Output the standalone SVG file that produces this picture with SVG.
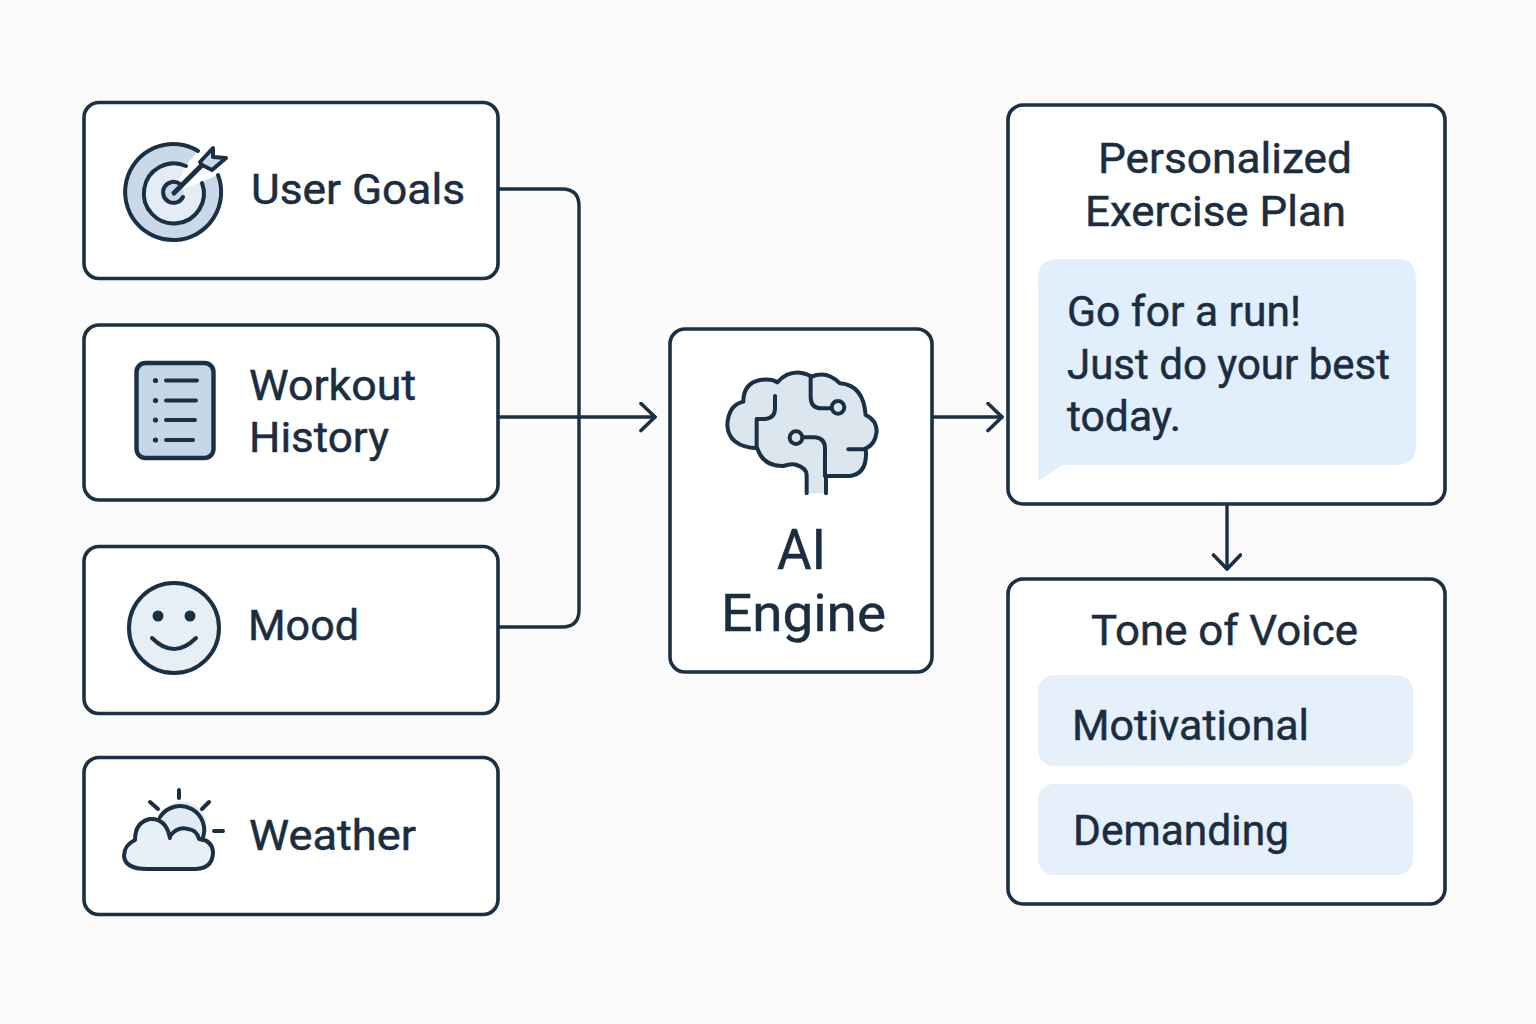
<svg xmlns="http://www.w3.org/2000/svg" width="1536" height="1024" viewBox="0 0 1536 1024">
<style>
.box{fill:#fff;stroke:#1a3044;stroke-width:3.6}
.t{font-family:Roboto,"Liberation Sans",sans-serif;font-weight:400;stroke:#1b2d40;stroke-width:.5;fill:#1b2d40;font-size:43px}
.i{stroke:#1a3044;stroke-width:4;stroke-linecap:round;stroke-linejoin:round;fill:none}
.c{fill:none;stroke:#1a3044;stroke-width:3.4;stroke-linejoin:round;stroke-linecap:round}
</style>
<defs><marker id="a" markerUnits="userSpaceOnUse" markerWidth="24" markerHeight="34" refX="18" refY="15" orient="auto"><path d="M4 1.500L18 15L4 28.500" fill="none" stroke="#1a3044" stroke-width="3.600" stroke-linecap="round" stroke-linejoin="round"/></marker></defs>
<rect width="1536" height="1024" fill="#fbfbfb"/>
<g id="connectors">
<path class="c" d="M499 189H562Q579 189 579 206V610Q579 627 562 627H499"/>
<path class="c" d="M499 417H655" marker-end="url(#a)"/>
<path class="c" d="M933 417H1002" marker-end="url(#a)"/>
<path class="c" d="M1227 505V569" marker-end="url(#a)"/>
</g>
<g id="goals"><rect class="box" x="84" y="102.500" width="414" height="176" rx="15"/>
<path d="M198 151A48 48 0 1 0 218 175L201 182A30 30 0 1 1 186 165Z" fill="#c9d9e7"/>
<path d="M186 165A30 30 0 1 0 201 182L174 192Z" fill="#e4edf5"/>
<circle cx="173" cy="192" r="10.500" fill="#c9d9e7"/>
<path class="i" d="M198 151A48 48 0 1 0 218 175M186 166A30 30 0 1 0 202 183M180 184A10.500 10.500 0 1 0 183 197"/>
<path class="i" d="M174 193L203 164" style="stroke-width:5"/>
<path class="i" d="M200 162L213 148V157L226 158L212 170L202 165Z" style="fill:#c9d9e7"/>
<text class="t" x="251" y="204" textLength="214" lengthAdjust="spacingAndGlyphs">User Goals</text></g>
<g id="history"><rect class="box" x="84" y="325" width="414" height="175" rx="15"/>
<rect x="136.500" y="363" width="77" height="95" rx="9" fill="#c4d7e7" stroke="#1a3044" stroke-width="4.400"/>
<path class="i" d="M166 380.500H197M166 400.500H196M166 420H195M166 440H193"/>
<g fill="#1a3044"><circle cx="155.500" cy="380.500" r="2.600"/><circle cx="155.500" cy="400.500" r="2.600"/><circle cx="155.500" cy="420" r="2.600"/><circle cx="155.500" cy="440" r="2.600"/></g>
<text class="t" x="249" y="400" textLength="167" lengthAdjust="spacingAndGlyphs">Workout</text><text class="t" x="249" y="452" textLength="140" lengthAdjust="spacingAndGlyphs">History</text></g>
<g id="mood"><rect class="box" x="84" y="546.500" width="414" height="167" rx="15"/>
<circle cx="174" cy="628" r="45" fill="#e6eef6" stroke="#1a3044" stroke-width="4"/>
<circle cx="158" cy="616" r="5.500" fill="#1a3044"/><circle cx="190" cy="616" r="5.500" fill="#1a3044"/>
<path class="i" d="M152 638Q174 660 196 638"/>
<text class="t" x="248" y="640" textLength="111" lengthAdjust="spacingAndGlyphs">Mood</text></g>
<g id="weather"><rect class="box" x="84" y="757.500" width="414" height="157" rx="15"/>
<path d="M160 817A24 24 0 0 1 205 834L200 840L160 830Z" fill="#e2ecf5"/>
<path d="M147 869H196Q213 868 213 852Q212 840 199 839Q196 829 186 832Q176 832 170 838Q163 816 146 820Q135 824 135 840Q124 845 124 856Q125 869 147 869Z" fill="#e8f0f7"/>
<path class="i" d="M160 817A24 24 0 0 1 202 840M147 869H196Q213 868 213 852Q212 840 199 839Q197 830 188 829Q178 826 170 836M170 838Q166 818 150 819Q135 822 135 840Q124 845 124 856Q125 869 147 869M179 790V798M150 802L158 809M209 802L202 809M214 831H223"/>
<text class="t" x="249" y="850" textLength="167" lengthAdjust="spacingAndGlyphs">Weather</text></g>
<g id="engine"><rect class="box" x="670" y="329" width="262" height="343" rx="15"/>
<g transform="translate(700 350) scale(.3333)">
<path d="M320 430V375Q320 355 290 345Q275 340 250 348Q190 350 172 295Q85 290 82 225Q85 165 130 155Q130 100 180 90Q215 85 232 97Q260 65 300 68Q320 70 335 80Q380 60 420 100Q490 105 497 195Q530 210 530 245Q525 285 497 295Q505 370 450 378H378V430Z" fill="#dbe6ef"/>
<g fill="none" stroke="#1a3044" stroke-width="12" stroke-linecap="round" stroke-linejoin="round">
<path d="M320 430V375Q320 355 290 345Q275 340 250 348Q190 350 172 295Q85 290 82 225Q85 165 130 155Q130 100 180 90Q215 85 232 97Q260 65 300 68Q320 70 335 80Q380 60 420 100Q490 105 497 195Q530 210 530 245Q525 285 497 295Q505 370 450 378H378V430"/>
<path d="M225 138V175Q225 205 195 207H170V295M332 82V140Q332 175 365 175H395M310 262H345Q375 265 375 295V378M445 298H497"/>
<circle cx="414" cy="172" r="19"/><circle cx="288" cy="263" r="19"/></g></g>
<text class="t" x="777" y="569" textLength="49" lengthAdjust="spacingAndGlyphs" style="font-size:55px">AI</text><text class="t" x="721" y="631" textLength="165" lengthAdjust="spacingAndGlyphs" style="font-size:52px">Engine</text></g>
<g id="plan"><rect class="box" x="1008" y="105" width="437" height="399" rx="15"/>
<text class="t" x="1098" y="173" textLength="254" lengthAdjust="spacingAndGlyphs">Personalized</text><text class="t" x="1085" y="226" textLength="261" lengthAdjust="spacingAndGlyphs">Exercise Plan</text>
<path d="M1038 481V279Q1038 259 1058 259H1396Q1416 259 1416 279V445Q1416 465 1396 465H1062Z" fill="#e1eefc"/>
<text class="t" x="1067" y="326" textLength="234" lengthAdjust="spacingAndGlyphs">Go for a run!</text><text class="t" x="1067" y="379" textLength="323" lengthAdjust="spacingAndGlyphs">Just do your best</text><text class="t" x="1067" y="431" textLength="114" lengthAdjust="spacingAndGlyphs">today.</text></g>
<g id="tone"><rect class="box" x="1008" y="579" width="437" height="325" rx="15"/>
<text class="t" x="1091" y="645" textLength="267" lengthAdjust="spacingAndGlyphs">Tone of Voice</text>
<rect x="1038" y="675" width="375" height="91" rx="16" fill="#e6f0fb"/><text class="t" x="1072" y="740" textLength="237" lengthAdjust="spacingAndGlyphs">Motivational</text>
<rect x="1038" y="784" width="375" height="91" rx="16" fill="#e6f0fb"/><text class="t" x="1073" y="845" textLength="216" lengthAdjust="spacingAndGlyphs">Demanding</text></g>
</svg>
